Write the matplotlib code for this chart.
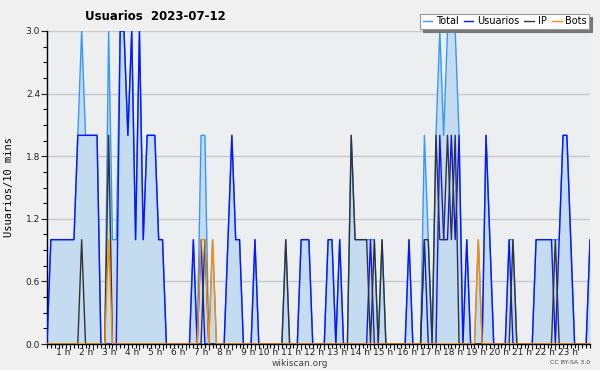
import matplotlib
matplotlib.use('Agg')
import matplotlib.pyplot as plt
import numpy as np
from matplotlib.ticker import MultipleLocator
from matplotlib.lines import Line2D

# values every 10 minutes, one row per hour
total = [0, 1, 1, 1, 1, 1,
         1, 1, 2, 3, 2, 2,
         2, 2, 0, 0, 3, 1,
         1, 3, 3, 2, 3, 1,
         3, 1, 2, 2, 2, 1,
         1, 0, 0, 0, 0, 0,
         0, 0, 1, 0, 2, 2,
         0, 1, 0, 0, 0, 1,
         2, 1, 1, 0, 0, 0,
         1, 0, 0, 0, 0, 0,
         0, 0, 1, 0, 0, 0,
         1, 1, 1, 0, 0, 0,
         0, 1, 1, 0, 1, 0,
         0, 2, 1, 1, 1, 1,
         1, 1, 0, 1, 0, 0,
         0, 0, 0, 0, 1, 0,
         0, 0, 2, 1, 0, 2,
         3, 2, 3, 3, 3, 2,
         0, 1, 0, 0, 1, 0,
         2, 1, 0, 0, 0, 0,
         1, 1, 0, 0, 0, 0,
         0, 1, 1, 1, 1, 1,
         1, 1, 2, 2, 1, 0,
         0, 0, 0, 1]

usuarios = [0, 1, 1, 1, 1, 1,
            1, 1, 2, 2, 2, 2,
            2, 2, 0, 0, 0, 0,
            0, 3, 3, 2, 3, 1,
            3, 1, 2, 2, 2, 1,
            1, 0, 0, 0, 0, 0,
            0, 0, 1, 0, 1, 0,
            0, 0, 0, 0, 0, 1,
            2, 1, 1, 0, 0, 0,
            1, 0, 0, 0, 0, 0,
            0, 0, 0, 0, 0, 0,
            1, 1, 1, 0, 0, 0,
            0, 1, 1, 0, 1, 0,
            0, 0, 0, 0, 0, 0,
            1, 0, 0, 0, 0, 0,
            0, 0, 0, 0, 1, 0,
            0, 0, 1, 0, 0, 0,
            2, 1, 1, 2, 1, 2,
            0, 1, 0, 0, 0, 0,
            2, 1, 0, 0, 0, 0,
            1, 0, 0, 0, 0, 0,
            0, 1, 1, 1, 1, 1,
            0, 1, 2, 2, 1, 0,
            0, 0, 0, 1]

ip = [0, 0, 0, 0, 0, 0,
      0, 0, 0, 1, 0, 0,
      0, 0, 0, 0, 2, 0,
      0, 0, 0, 0, 0, 0,
      0, 0, 0, 0, 0, 0,
      0, 0, 0, 0, 0, 0,
      0, 0, 0, 0, 0, 1,
      0, 0, 0, 0, 0, 0,
      0, 0, 0, 0, 0, 0,
      0, 0, 0, 0, 0, 0,
      0, 0, 1, 0, 0, 0,
      0, 0, 0, 0, 0, 0,
      0, 0, 0, 0, 0, 0,
      0, 2, 1, 1, 1, 1,
      0, 1, 0, 1, 0, 0,
      0, 0, 0, 0, 0, 0,
      0, 0, 1, 1, 0, 2,
      1, 1, 2, 1, 2, 0,
      0, 0, 0, 0, 0, 0,
      0, 0, 0, 0, 0, 0,
      0, 1, 0, 0, 0, 0,
      0, 0, 0, 0, 0, 0,
      1, 0, 0, 0, 0, 0,
      0, 0, 0, 0]

bots = [0, 0, 0, 0, 0, 0,
        0, 0, 0, 0, 0, 0,
        0, 0, 0, 0, 1, 0,
        0, 0, 0, 0, 0, 0,
        0, 0, 0, 0, 0, 0,
        0, 0, 0, 0, 0, 0,
        0, 0, 0, 0, 1, 1,
        0, 1, 0, 0, 0, 0,
        0, 0, 0, 0, 0, 0,
        0, 0, 0, 0, 0, 0,
        0, 0, 0, 0, 0, 0,
        0, 0, 0, 0, 0, 0,
        0, 0, 0, 0, 0, 0,
        0, 0, 0, 0, 0, 0,
        0, 0, 0, 0, 0, 0,
        0, 0, 0, 0, 0, 0,
        0, 0, 0, 0, 0, 0,
        0, 0, 0, 0, 0, 0,
        0, 0, 0, 0, 1, 0,
        0, 0, 0, 0, 0, 0,
        0, 0, 0, 0, 0, 0,
        0, 0, 0, 0, 0, 0,
        0, 0, 0, 0, 0, 0,
        0, 0, 0, 0]

hour_labels = ['1 h', '2 h', '3 h', '4 h', '5 h', '6 h', '7 h', '8 h', '9 h', '10 h',
               '11 h', '12 h', '13 h', '14 h', '15 h', '16 h', '17 h', '18 h', '19 h',
               '20 h', '21 h', '22 h', '23 h']
y_ticks = [0.0, 0.6, 1.2, 1.8, 2.4, 3.0]

c_total = '#3399ff'
c_users = '#0a14ff'
c_ip = '#333333'
c_bots = '#ff8c00'

fig = plt.figure(figsize=(6, 3.7), dpi=100, facecolor='#f0f0f0')
ax = fig.add_axes([47/600, 26/370, 543/600, 313/370], facecolor='#eceef0')

x = np.arange(len(total))
ax.fill_between(x, total, color='#c5dcf0', lw=0, zorder=1)
ax.plot(x, total, color=c_total, lw=1, zorder=2)
ax.plot(x, usuarios, color=c_users, lw=1, zorder=3)
ax.plot(x, ip, color=c_ip, lw=1, zorder=4)
ax.plot(x, bots, color=c_bots, lw=1, zorder=5)

ax.set_xlim(0, len(total) - 1)
ax.set_ylim(0, 3)
ax.set_yticks(y_ticks)
ax.set_yticklabels(['%.1f' % v for v in y_ticks])
ax.yaxis.set_minor_locator(MultipleLocator(0.15))
ax.set_xticks([6 * (i + 1) for i in range(len(hour_labels))])
ax.set_xticklabels(hour_labels, ha='right')
ax.xaxis.set_minor_locator(MultipleLocator(1))
ax.tick_params(axis='both', which='major', labelsize=6.5, length=4, width=0.8, colors='#222222')
ax.tick_params(axis='x', which='major', pad=-1)
ax.tick_params(axis='y', which='major', pad=1)
ax.tick_params(axis='both', which='minor', length=3, width=0.8)
ax.grid(axis='y', color='#c8c8c8', lw=1)
ax.set_axisbelow(True)
for s in ['top', 'right']:
    ax.spines[s].set_visible(False)
for s in ['left', 'bottom']:
    ax.spines[s].set_color('black')
    ax.spines[s].set_linewidth(1)

handles = [Line2D([], [], color=c_total, lw=1),
           Line2D([], [], color=c_users, lw=1),
           Line2D([], [], color=c_ip, lw=1),
           Line2D([], [], color=c_bots, lw=1)]
leg = fig.legend(handles, ['Total', 'Usuarios', 'IP', 'Bots'], loc='upper right',
                 bbox_to_anchor=(589/600, 1 - 14/370), ncol=4, fontsize=7,
                 frameon=True, fancybox=False, edgecolor='#999999',
                 shadow={'color': '#777777', 'alpha': 1},
                 handlelength=1.0, handletextpad=0.35, columnspacing=0.55,
                 borderpad=0.25, borderaxespad=0)
leg.get_frame().set_linewidth(0.8)

fig.text(85/600, 1 - 17/370, 'Usuarios  2023-07-12', fontsize=8.5, fontweight='bold',
         ha='left', va='center')
fig.text(9/600, 1 - 187/370, 'Usuarios/10 mins', rotation=90, family='DejaVu Sans Mono',
         fontsize=7.5, ha='center', va='center')
fig.text(300/600, 1 - 363/370, 'wikiscan.org', fontsize=6.5, ha='center', va='center',
         color='#444444')
fig.text(590/600, 1 - 363/370, 'CC BY-SA 3.0', fontsize=4.5, ha='right', va='center',
         color='#444444')

fig.savefig('out.png', dpi=100, facecolor=fig.get_facecolor())
